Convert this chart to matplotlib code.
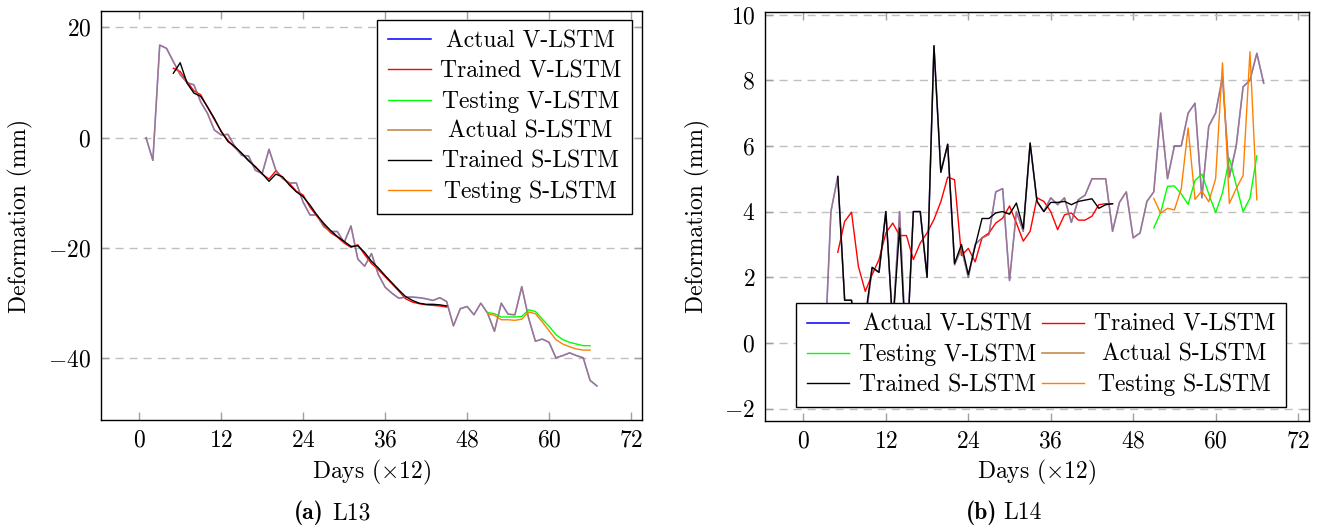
import numpy as np
import matplotlib
matplotlib.use('Agg')
import matplotlib.pyplot as plt

## Style (pgfplots look)
plt.rcParams['font.family'] = 'cmr10'
plt.rcParams['mathtext.fontset'] = 'cm'
plt.rcParams['axes.formatter.use_mathtext'] = True
plt.rcParams['font.size'] = 17

## Data
labels = ['Actual V-LSTM', 'Trained V-LSTM', 'Testing V-LSTM',
          'Actual S-LSTM', 'Trained S-LSTM', 'Testing S-LSTM']
colors = ['#0000ff', '#ff0000', '#00ff00', '#bf8040', '#000000', '#ff8000']

days = np.arange(1, 68)          # sample index (x12 days)
days_train = np.arange(5, 46)
days_test = np.arange(51, 67)

# L13
actual_l13 = [0.0, -4.1, 16.8, 16.2, 13.8, 11.4, 10.0, 9.6, 6.5, 4.4,
              1.4, 0.5, 0.6, -1.6, -3.2, -3.3, -5.9, -6.5, -2.1, -5.9,
              -7.4, -8.2, -8.2, -11.7, -14.0, -14.0, -16.1, -17.0, -17.0, -19.0,
              -16.0, -22.0, -23.3, -21.0, -24.8, -27.1, -28.2, -29.1, -28.9, -28.9,
              -29.0, -29.2, -29.5, -29.0, -29.7, -34.1, -31.0, -30.6, -32.1, -30.0,
              -31.8, -35.1, -30.0, -32.0, -32.1, -27.0, -32.7, -36.9, -36.5, -37.1,
              -39.9, -39.5, -39.0, -39.5, -39.9, -44.0, -45.0]
trained_v_l13 = [12.6, 12.0, 10.2, 8.5, 7.8, 5.5, 3.3, 1.2, -0.5, -1.8,
                 -2.9, -4.2, -5.2, -6.6, -7.5, -6.0, -7.3, -8.3, -9.7, -10.4,
                 -12.6, -14.2, -15.8, -17.2, -18.0, -19.1, -19.9, -19.4, -21.2, -22.8,
                 -23.9, -25.2, -26.5, -27.8, -29.2, -29.8, -30.1, -30.3, -30.4, -30.5,
                 -30.7]
trained_s_l13 = [11.7, 13.6, 9.9, 8.1, 7.5, 5.6, 3.5, 1.1, -0.7, -1.6,
                 -2.8, -4.1, -5.3, -6.5, -7.9, -6.6, -7.1, -8.6, -9.8, -10.7,
                 -12.2, -14.0, -15.5, -16.8, -17.9, -18.8, -19.7, -19.6, -20.8, -22.4,
                 -23.6, -25.0, -26.3, -27.6, -28.8, -29.5, -30.0, -30.2, -30.2, -30.3,
                 -30.5]
testing_v_l13 = [-31.7, -31.9, -32.5, -32.5, -32.5, -32.4, -31.2, -31.5,
                 -32.9, -34.2, -35.7, -36.6, -37.1, -37.4, -37.7, -37.7]
testing_s_l13 = [-31.9, -32.2, -33.0, -33.0, -33.1, -32.9, -31.6, -31.9,
                 -33.4, -35.0, -36.6, -37.4, -37.9, -38.3, -38.5, -38.5]

# L14
actual_l14 = [0.0, 1.2, -0.8, 4.0, 5.07, 1.3, 1.3, 0.2, 0.6, 2.3,
              2.15, 4.0, 0.5, 4.0, -0.5, 4.0, 4.0, 2.0, 9.05, 5.2,
              6.05, 2.38, 2.88, 2.0, 3.0, 3.2, 3.3, 4.6, 4.7, 1.9,
              4.0, 3.4, 6.08, 4.31, 4.0, 4.42, 4.21, 4.42, 3.67, 4.36,
              4.5, 5.0, 5.0, 5.0, 3.4, 4.28, 4.6, 3.2, 3.35, 4.31,
              4.6, 7.0, 5.0, 6.0, 6.0, 7.0, 7.3, 4.42, 6.6, 7.0,
              8.1, 5.05, 6.0, 7.8, 8.0, 8.82, 7.91]
trained_v_l14 = [2.76, 3.7, 3.98, 2.33, 1.57, 2.08, 2.54, 3.35, 3.65, 3.27,
                 3.27, 2.54, 3.04, 3.35, 3.76, 4.3, 5.05, 4.97, 2.66, 2.88,
                 2.47, 3.2, 3.35, 3.65, 3.8, 4.17, 3.65, 3.1, 3.4, 4.42,
                 4.31, 4.0, 3.45, 3.9, 3.96, 3.74, 3.74, 3.86, 4.21, 4.24,
                 4.24]
trained_s_l14 = [5.07, 1.3, 1.3, -1.33, 0.8, 2.3, 2.15, 4.0, 0.5, 3.5,
                 -0.5, 4.0, 4.0, 2.0, 9.05, 5.2, 6.05, 2.42, 3.0, 2.08,
                 2.95, 3.79, 3.79, 3.96, 4.0, 3.92, 4.26, 3.48, 6.09, 4.31,
                 4.0, 4.28, 4.28, 4.31, 4.21, 4.31, 4.35, 4.39, 4.1, 4.21,
                 4.24]
testing_v_l14 = [3.5, 3.97, 4.77, 4.78, 4.54, 4.22, 4.95, 5.14,
                 4.54, 3.97, 4.57, 5.63, 4.8, 4.0, 4.41, 5.7]
testing_s_l14 = [4.4, 3.95, 4.1, 4.05, 4.7, 6.55, 4.37, 4.63,
                 4.3, 5.0, 8.53, 4.25, 4.7, 5.1, 8.87, 4.36]


def draw(ax, actual, trained_v, testing_v, trained_s, testing_s):
    ax.plot(days, actual, color=colors[0], lw=1.1, alpha=0.6, label=labels[0])
    ax.plot(days_train, trained_v, color=colors[1], lw=1.0, label=labels[1])
    ax.plot(days_test, testing_v, color=colors[2], lw=1.0, label=labels[2])
    ax.plot(days, actual, color=colors[3], lw=1.1, alpha=0.6, label=labels[3])
    ax.plot(days_train, trained_s, color=colors[4], lw=1.0, label=labels[4])
    ax.plot(days_test, testing_s, color=colors[5], lw=1.0, label=labels[5])
    ax.margins(x=0.1, y=0.1)
    ax.set_xticks([0, 12, 24, 36, 48, 60, 72])
    ax.tick_params(direction='in', top=True, right=True, length=6,
                   width=1, color='#a0a0a0', pad=7)
    ax.yaxis.grid(True, color='#c0c0c0', lw=1, linestyle=(0, (5.8, 4.3)))
    ax.set_axisbelow(True)
    for s in ax.spines.values():
        s.set_linewidth(1.0)
    ax.set_xlabel(r'Days ($\times$12)')
    ax.set_ylabel('Deformation (mm)')
    ax.xaxis.label.set_va('center')
    ax.yaxis.label.set_va('center')


fig = plt.figure(figsize=(13.18, 5.26), dpi=100)

## (a) L13
ax1 = fig.add_axes([0.0766, 0.2015, 0.4105, 0.7776])
draw(ax1, actual_l13, trained_v_l13, testing_v_l13, trained_s_l13, testing_s_l13)
ax1.set_yticks([-40, -20, 0, 20])
ax1.yaxis.set_label_coords(-0.148, 0.5)
ax1.xaxis.set_label_coords(0.5, -0.127)
leg1 = ax1.legend(loc='upper right', bbox_to_anchor=(0.9815, 0.978),
                  fancybox=False, framealpha=1, edgecolor='black',
                  handlelength=1.8, handletextpad=0.4, labelspacing=0.33,
                  borderpad=0.45, borderaxespad=0)
leg1.get_frame().set_linewidth(1.0)

## (b) L14
ax2 = fig.add_axes([0.5804, 0.2002, 0.4128, 0.7776])
draw(ax2, actual_l14, trained_v_l14, testing_v_l14, trained_s_l14, testing_s_l14)
ax2.set_yticks([-2, 0, 2, 4, 6, 8, 10])
ax2.yaxis.set_label_coords(-0.125, 0.5)
ax2.xaxis.set_label_coords(0.5, -0.127)
h, l = ax2.get_legend_handles_labels()
order = [0, 2, 4, 1, 3, 5]   # row-wise like pgfplots
leg2 = ax2.legend([h[i] for i in order], [l[i] for i in order], ncol=2,
                  loc='lower left', bbox_to_anchor=(0.057, 0.034),
                  fancybox=False, framealpha=1, edgecolor='black',
                  handlelength=1.8, handletextpad=0.4, labelspacing=0.33,
                  columnspacing=0.25, borderpad=0.45, borderaxespad=0)
leg2.get_frame().set_linewidth(1.0)

for leg in (leg1, leg2):
    for hd in leg.legend_handles:
        hd.set_alpha(1)

## Captions
fig.text(324 / 1318, 1 - 513 / 526, '(a)', family='cmb10', ha='right', va='center')
fig.text(332 / 1318, 1 - 513 / 526, 'L13', ha='left', va='center')
fig.text(997 / 1318, 1 - 513 / 526, '(b)', family='cmb10', ha='right', va='center')
fig.text(1003 / 1318, 1 - 513 / 526, 'L14', ha='left', va='center')

# centre legend labels within their column, as pgfplots does
fig.canvas.draw()
r = fig.canvas.get_renderer()
for leg, cols in ((leg1, [range(6)]), (leg2, [range(3), range(3, 6)])):
    texts = leg.get_texts()
    for col in cols:
        w = [texts[i].get_window_extent(r).width for i in col]
        for i, wi in zip(col, w):
            texts[i].set_x((max(w) - wi) / 2)

fig.savefig('out.png', dpi=100)
